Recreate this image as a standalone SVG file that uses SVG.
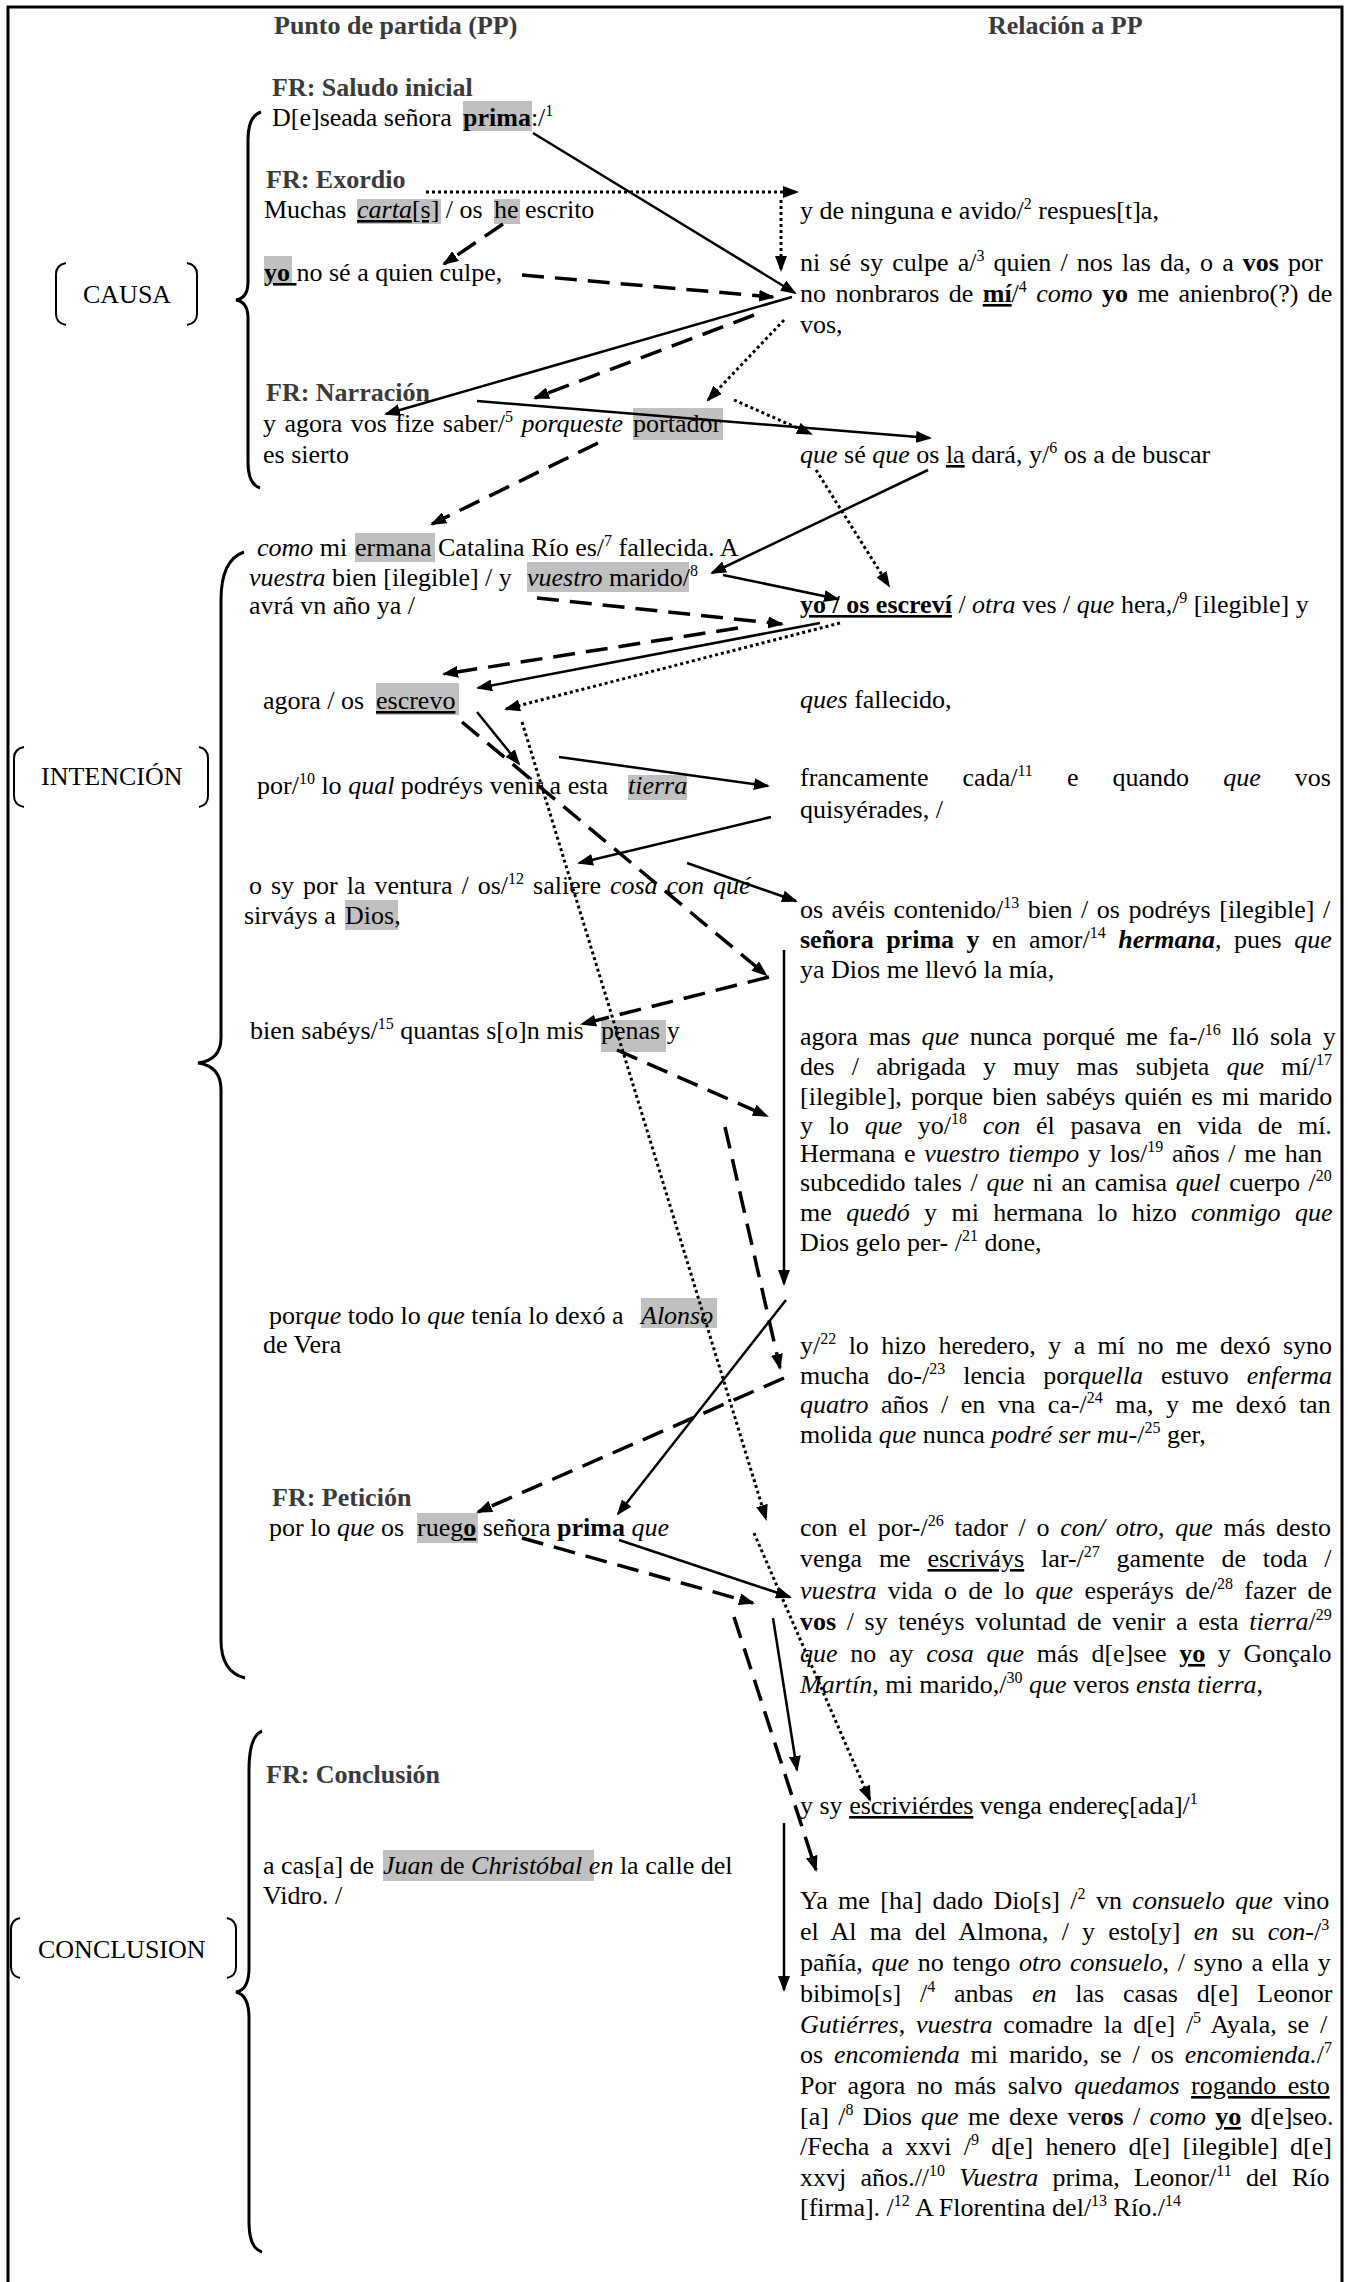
<svg xmlns="http://www.w3.org/2000/svg" width="1348" height="2282" viewBox="0 0 1348 2282">
<style>
.t{font-family:"Liberation Serif","Times New Roman",serif;font-size:26px;fill:#000}
.h{font-weight:bold;fill:#3a3a3a}
.b{font-weight:bold}
.i{font-style:italic}
.u{text-decoration:underline}
.s{font-size:16px}
.hl{fill:#c0c0c0}
.sol{stroke:#000;stroke-width:2.5;fill:none;marker-end:url(#ah)}
.dsh{stroke:#000;stroke-width:3.5;stroke-dasharray:22 11;fill:none;marker-end:url(#ah)}
.dot{stroke:#000;stroke-width:3;stroke-dasharray:3 3;fill:none;marker-end:url(#ah)}
.br{stroke:#000;stroke-width:3;fill:none}
.bk{stroke:#000;stroke-width:2;fill:none}
</style>
<defs>
<marker id="ah" markerUnits="userSpaceOnUse" markerWidth="16" markerHeight="12" refX="14" refY="6" orient="auto">
<path d="M0,0 L16,6 L0,12 z" fill="#000"/>
</marker>
</defs>
<rect x="0" y="0" width="1348" height="2282" fill="#fff"/>
<rect x="8" y="7" width="1334" height="2300" fill="none" stroke="#000" stroke-width="3"/>

<g id="headers">
<text class="t h" x="274" y="34">Punto de partida (PP)</text>
<text class="t h" x="988" y="34">Relación a PP</text>
</g>

<g id="sections">
<g id="causa">
<path class="bk" d="M66,263 Q56,265 56,274 L56,314 Q56,323 66,325"/>
<path class="bk" d="M187,263 Q197,265 197,274 L197,314 Q197,323 187,325"/>
<text class="t" x="83" y="303">CAUSA</text>
<path class="br" d="M261,112 Q248,116 248,140 L248,282 Q248,298 236,300 Q248,302 248,318 L248,462 Q248,484 260,488"/>
</g>
<g id="intencion">
<path class="bk" d="M24,747 Q14,749 14,758 L14,796 Q14,805 24,807"/>
<path class="bk" d="M199,747 Q208,749 208,758 L208,796 Q208,805 199,807"/>
<text class="t" x="41" y="785">INTENCIÓN</text>
<path class="br" d="M244,552 Q221,560 221,600 L221,1038 Q221,1060 198,1063 Q221,1066 221,1090 L221,1640 Q221,1672 245,1678"/>
</g>
<g id="conclusion">
<path class="bk" d="M20,1918 Q11,1920 11,1929 L11,1967 Q11,1976 20,1978"/>
<path class="bk" d="M227,1918 Q236,1920 236,1929 L236,1967 Q236,1976 227,1978"/>
<text class="t" x="38" y="1958">CONCLUSION</text>
<path class="br" d="M262,1731 Q249,1736 249,1770 L249,1968 Q249,1990 236,1992 Q249,1995 249,2018 L249,2222 Q249,2248 262,2252"/>
</g>
</g>

<g id="n-saludo">
<text class="t h" x="272" y="96">FR: Saludo inicial</text>
<rect class="hl" x="463" y="101" width="69" height="30"/>
<text class="t" x="272" y="126">D[e]seada señora <tspan x="463" class="b">prima</tspan>:/<tspan class="s" dy="-10">1</tspan></text>
</g>

<g id="n-exordio">
<text class="t h" x="266" y="188">FR: Exordio</text>
<rect class="hl" x="357" y="199" width="84" height="25"/>
<rect class="hl" x="494" y="199" width="26" height="25"/>
<text class="t" x="264" y="218">Muchas <tspan x="357" class="i u">carta</tspan><tspan class="u">[s]</tspan> / os <tspan x="494">he</tspan> escrito</text>
</g>

<g id="n-yo">
<rect class="hl" x="264" y="256" width="28" height="28"/>
<text class="t" x="264" y="281"><tspan class="b u">yo </tspan>no sé a quien culpe,</text>
</g>

<g id="n-narracion">
<text class="t h" x="266" y="401">FR: Narración</text>
<rect class="hl" x="633" y="408" width="90" height="32"/>
<text class="t" x="263" y="432" style="word-spacing:2px">y agora vos fize saber/<tspan class="s" dy="-10">5</tspan><tspan dy="10"> </tspan><tspan class="i">porqueste</tspan> <tspan x="633">portador</tspan></text>
<text class="t" x="263" y="463">es sierto</text>
</g>

<g id="n-como">
<rect class="hl" x="355" y="533" width="80" height="29"/>
<rect class="hl" x="527" y="562" width="162" height="30"/>
<text class="t" x="257" y="556"><tspan class="i">como</tspan> mi <tspan x="355">ermana</tspan> Catalina Río es/<tspan class="s" dy="-10">7</tspan><tspan dy="10"> fallecida. A</tspan></text>
<text class="t" x="249" y="586"><tspan class="i">vuestra</tspan> bien [ilegible] / y <tspan x="527" class="i">vuestro</tspan> marido/<tspan class="s" dy="-10">8</tspan></text>
<text class="t" x="249" y="614">avrá vn año ya /</text>
</g>

<g id="n-agora">
<rect class="hl" x="376" y="683" width="83" height="32"/>
<text class="t" x="263" y="709">agora / os <tspan x="376" class="u">escrevo</tspan></text>
</g>

<g id="n-por10">
<rect class="hl" x="628" y="775" width="59" height="25"/>
<text class="t" x="257" y="794">por/<tspan class="s" dy="-10">10</tspan><tspan dy="10"> lo </tspan><tspan class="i">qual</tspan> podréys venir a esta <tspan x="628" class="i">tierra</tspan></text>
</g>

<g id="n-osy">
<rect class="hl" x="345" y="900" width="53" height="30"/>
<text class="t" x="249" y="894" style="word-spacing:2.5px">o sy por la ventura / os/<tspan class="s" dy="-10">12</tspan><tspan dy="10"> saliere </tspan><tspan class="i">cosa con qué</tspan></text>
<text class="t" x="244" y="924">sirváys a <tspan x="345">Dios</tspan>,</text>
</g>

<g id="n-bien">
<rect class="hl" x="601" y="1020" width="65" height="32"/>
<text class="t" x="250" y="1039">bien sabéys/<tspan class="s" dy="-10">15</tspan><tspan dy="10"> quantas s[o]n mis </tspan><tspan x="601">penas</tspan> y</text>
</g>

<g id="n-porque">
<rect class="hl" x="641" y="1298" width="76" height="30"/>
<text class="t" x="269" y="1324">por<tspan class="i">que</tspan> todo lo <tspan class="i">que</tspan> tenía lo dexó a <tspan x="641" class="i">Alonso</tspan></text>
<text class="t" x="263" y="1353">de Vera</text>
</g>

<g id="n-peticion">
<text class="t h" x="272" y="1506">FR: Petición</text>
<rect class="hl" x="417" y="1513" width="61" height="30"/>
<text class="t" x="269" y="1536">por lo <tspan class="i">que</tspan> os <tspan x="417">rueg</tspan><tspan class="b u">o</tspan> señora <tspan class="b">prima</tspan> <tspan class="i">que</tspan></text>
</g>

<g id="n-conclusion">
<text class="t h" x="266" y="1783">FR: Conclusión</text>
<rect class="hl" x="383" y="1850" width="211" height="31"/>
<text class="t" x="263" y="1874">a cas[a] de <tspan x="383" class="i">Juan</tspan> de <tspan class="i">Christóbal</tspan> <tspan class="i">en</tspan> la calle del</text>
<text class="t" x="263" y="1904">Vidro. /</text>
</g>

<g id="n-r1">
<text class="t" x="800" y="219">y de ninguna e avido/<tspan class="s" dy="-10">2</tspan><tspan dy="10"> respues[t]a,</tspan></text>
</g>
<g id="n-r2">
<text class="t" x="800" y="271" style="word-spacing:2.6px">ni sé sy culpe a/<tspan class="s" dy="-10">3</tspan><tspan dy="10"> quien / nos las da, o a </tspan><tspan class="b">vos</tspan> por</text>
<text class="t" x="800" y="302" style="word-spacing:2.9px">no nonbraros de <tspan class="b u">mí</tspan>/<tspan class="s" dy="-10">4</tspan><tspan dy="10"> </tspan><tspan class="i">como</tspan> <tspan class="b">yo</tspan> me anienbro(?) de</text>
<text class="t" x="800" y="333">vos,</text>
</g>
<g id="n-r3">
<text class="t" x="800" y="463"><tspan class="i">que</tspan> sé <tspan class="i">que</tspan> os <tspan class="u">la</tspan> dará, y/<tspan class="s" dy="-10">6</tspan><tspan dy="10"> os a de buscar</tspan></text>
</g>
<g id="n-r4">
<text class="t" x="800" y="613"><tspan class="b u">yo / os escreví</tspan> / <tspan class="i">otra</tspan> ves / <tspan class="i">que</tspan> hera,/<tspan class="s" dy="-10">9</tspan><tspan dy="10"> [ilegible] y</tspan></text>
</g>
<g id="n-r5">
<text class="t" x="800" y="708"><tspan class="i">ques</tspan> fallecido,</text>
</g>
<g id="n-r6">
<text class="t" x="800" y="786" style="word-spacing:27.6px">francamente cada/<tspan class="s" dy="-10">11</tspan><tspan dy="10"> e quando </tspan><tspan class="i">que</tspan> vos</text>
<text class="t" x="800" y="818">quisyérades, /</text>
</g>
<g id="n-r7">
<text class="t" x="800" y="918" style="word-spacing:2px">os avéis contenido/<tspan class="s" dy="-10">13</tspan><tspan dy="10"> bien / os podréys [ilegible] /</tspan></text>
<text class="t" x="800" y="948" style="word-spacing:6px"><tspan class="b">señora prima y</tspan> en amor/<tspan class="s" dy="-10">14</tspan><tspan dy="10"> </tspan><tspan class="b i">hermana</tspan>, pues <tspan class="i">que</tspan></text>
<text class="t" x="800" y="978">ya Dios me llevó la mía,</text>
</g>
<g id="n-r8">
<text class="t" x="800" y="1045" style="word-spacing:4.4px">agora mas <tspan class="i">que</tspan> nunca porqué me fa-/<tspan class="s" dy="-10">16</tspan><tspan dy="10"> lló sola y</tspan></text>
<text class="t" x="800" y="1075" style="word-spacing:10.7px">des / abrigada y muy mas subjeta <tspan class="i">que</tspan> mí/<tspan class="s" dy="-10">17</tspan></text>
<text class="t" x="800" y="1105" style="word-spacing:2.6px">[ilegible], porque bien sabéys quién es mi marido</text>
<text class="t" x="800" y="1134" style="word-spacing:9.2px">y lo <tspan class="i">que</tspan> yo/<tspan class="s" dy="-10">18</tspan><tspan dy="10"> </tspan><tspan class="i">con</tspan> él pasava en vida de mí.</text>
<text class="t" x="800" y="1162" style="word-spacing:2.2px">Hermana e <tspan class="i">vuestro tiempo</tspan> y los/<tspan class="s" dy="-10">19</tspan><tspan dy="10"> años / me han</tspan></text>
<text class="t" x="800" y="1191" style="word-spacing:2.2px">subcedido tales / <tspan class="i">que</tspan> ni an camisa <tspan class="i">quel</tspan> cuerpo /<tspan class="s" dy="-10">20</tspan></text>
<text class="t" x="800" y="1221" style="word-spacing:7.9px">me <tspan class="i">quedó</tspan> y mi hermana lo hizo <tspan class="i">conmigo que</tspan></text>
<text class="t" x="800" y="1251">Dios gelo per- /<tspan class="s" dy="-10">21</tspan><tspan dy="10"> done,</tspan></text>
</g>
<g id="n-r9">
<text class="t" x="800" y="1354" style="word-spacing:5.9px">y/<tspan class="s" dy="-10">22</tspan><tspan dy="10"> lo hizo heredero, y a mí no me dexó syno</tspan></text>
<text class="t" x="800" y="1384" style="word-spacing:11.5px">mucha do-/<tspan class="s" dy="-10">23</tspan><tspan dy="10"> lencia por</tspan><tspan class="i">quella</tspan> estuvo <tspan class="i">enferma</tspan></text>
<text class="t" x="800" y="1413" style="word-spacing:6px"><tspan class="i">quatro</tspan> años / en vna ca-/<tspan class="s" dy="-10">24</tspan><tspan dy="10"> ma, y me dexó tan</tspan></text>
<text class="t" x="800" y="1443">molida <tspan class="i">que</tspan> nunca <tspan class="i">podré ser mu-</tspan>/<tspan class="s" dy="-10">25</tspan><tspan dy="10"> ger,</tspan></text>
</g>
<g id="n-r10">
<text class="t" x="800" y="1536" style="word-spacing:4.2px">con el por-/<tspan class="s" dy="-10">26</tspan><tspan dy="10"> tador / o </tspan><tspan class="i">con/ otro</tspan>, <tspan class="i">que</tspan> más desto</text>
<text class="t" x="800" y="1567" style="word-spacing:10.3px">venga me <tspan class="u">escriváys</tspan> lar-/<tspan class="s" dy="-10">27</tspan><tspan dy="10"> gamente de toda /</tspan></text>
<text class="t" x="800" y="1599" style="word-spacing:4.8px"><tspan class="i">vuestra</tspan> vida o de lo <tspan class="i">que</tspan> esperáys de/<tspan class="s" dy="-10">28</tspan><tspan dy="10"> fazer de</tspan></text>
<text class="t" x="800" y="1630" style="word-spacing:4.1px"><tspan class="b">vos</tspan> / sy tenéys voluntad de venir a esta <tspan class="i">tierra</tspan>/<tspan class="s" dy="-10">29</tspan></text>
<text class="t" x="800" y="1662" style="word-spacing:6.2px"><tspan class="i">que</tspan> no ay <tspan class="i">cosa que</tspan> más d[e]see <tspan class="b u">yo</tspan> y Gonçalo</text>
<text class="t" x="800" y="1693"><tspan class="i">Martín</tspan>, mi marido,/<tspan class="s" dy="-10">30</tspan><tspan dy="10"> </tspan><tspan class="i">que</tspan> veros <tspan class="i">ensta tierra</tspan>,</text>
</g>
<g id="n-r11">
<text class="t" x="800" y="1814">y sy <tspan class="u">escriviérdes</tspan> venga endereç[ada]/<tspan class="s" dy="-10">1</tspan></text>
</g>
<g id="n-r12">
<text class="t" x="800" y="1909" style="word-spacing:3.9px">Ya me [ha] dado Dio[s] /<tspan class="s" dy="-10">2</tspan><tspan dy="10"> vn </tspan><tspan class="i">consuelo que</tspan> vino</text>
<text class="t" x="800" y="1940" style="word-spacing:6.7px">el Al ma del Almona, / y esto[y] <tspan class="i">en</tspan> su <tspan class="i">con-</tspan>/<tspan class="s" dy="-10">3</tspan></text>
<text class="t" x="800" y="1971" style="word-spacing:2.2px">pañía, <tspan class="i">que</tspan> no tengo <tspan class="i">otro consuelo</tspan>, / syno a ella y</text>
<text class="t" x="800" y="2002" style="word-spacing:12.3px">bibimo[s] /<tspan class="s" dy="-10">4</tspan><tspan dy="10"> anbas </tspan><tspan class="i">en</tspan> las casas d[e] Leonor</text>
<text class="t" x="800" y="2033" style="word-spacing:4.3px"><tspan class="i">Gutiérres</tspan>, <tspan class="i">vuestra</tspan> comadre la d[e] /<tspan class="s" dy="-10">5</tspan><tspan dy="10"> Ayala, se /</tspan></text>
<text class="t" x="800" y="2063" style="word-spacing:4.4px">os <tspan class="i">encomienda</tspan> mi marido, se / os <tspan class="i">encomienda.</tspan>/<tspan class="s" dy="-10">7</tspan></text>
<text class="t" x="800" y="2094" style="word-spacing:5px">Por agora no más salvo <tspan class="i">quedamos</tspan> <tspan class="u">rogando esto</tspan></text>
<text class="t" x="800" y="2125" style="word-spacing:2.8px">[a] /<tspan class="s" dy="-10">8</tspan><tspan dy="10"> Dios </tspan><tspan class="i">que</tspan> me dexe ver<tspan class="b">os</tspan> / <tspan class="i">como</tspan> <tspan class="b u">yo</tspan> d[e]seo.</text>
<text class="t" x="800" y="2155" style="word-spacing:5.75px">/Fecha a xxvi /<tspan class="s" dy="-10">9</tspan><tspan dy="10"> d[e] henero d[e] [ilegible] d[e]</tspan></text>
<text class="t" x="800" y="2186" style="word-spacing:7.75px">xxvj años.//<tspan class="s" dy="-10">10</tspan><tspan dy="10"> </tspan><tspan class="i">Vuestra</tspan> prima, Leonor/<tspan class="s" dy="-10">11</tspan><tspan dy="10"> del Río</tspan></text>
<text class="t" x="800" y="2216">[firma]. /<tspan class="s" dy="-10">12</tspan><tspan dy="10"> A Florentina del/</tspan><tspan class="s" dy="-10">13</tspan><tspan dy="10"> Río./</tspan><tspan class="s" dy="-10">14</tspan></text>
</g>

<g id="connectors">
<line class="dot" x1="426" y1="192" x2="797" y2="192"/>
<line class="dot" x1="781" y1="200" x2="781" y2="270"/>
<line class="dot" x1="784" y1="320" x2="708" y2="400"/>
<line class="dot" x1="734" y1="400" x2="811" y2="434"/>
<line class="dot" x1="816" y1="470" x2="889" y2="586"/>
<line class="dot" x1="840" y1="623" x2="506" y2="709"/>
<line class="dot" x1="522" y1="722" x2="766" y2="1519"/>
<line class="dot" x1="754" y1="1533" x2="870" y2="1800"/>

<line class="sol" x1="533" y1="133" x2="795" y2="293"/>
<line class="sol" x1="792" y1="297" x2="386" y2="414"/>
<line class="sol" x1="477" y1="401" x2="930" y2="438"/>
<line class="sol" x1="928" y1="470" x2="712" y2="573"/>
<line class="sol" x1="723" y1="575" x2="838" y2="599"/>
<line class="sol" x1="820" y1="623" x2="478" y2="688"/>
<line class="sol" x1="477" y1="712" x2="519" y2="764"/>
<line class="sol" x1="559" y1="757" x2="768" y2="786"/>
<line class="sol" x1="771" y1="817" x2="579" y2="863"/>
<line class="sol" x1="687" y1="863" x2="796" y2="901"/>
<line class="sol" x1="784" y1="950" x2="784" y2="1284"/>
<line class="sol" x1="786" y1="1300" x2="618" y2="1514"/>
<line class="sol" x1="619" y1="1540" x2="790" y2="1597"/>
<line class="sol" x1="773" y1="1618" x2="797" y2="1770"/>
<line class="sol" x1="784" y1="1823" x2="784" y2="1990"/>

<line class="dsh" x1="503" y1="224" x2="444" y2="264"/>
<line class="dsh" x1="522" y1="275" x2="773" y2="297"/>
<line class="dsh" x1="754" y1="315" x2="535" y2="398"/>
<line class="dsh" x1="598" y1="443" x2="432" y2="524"/>
<line class="dsh" x1="537" y1="598" x2="782" y2="624"/>
<line class="dsh" x1="738" y1="628" x2="444" y2="674"/>
<line class="dsh" x1="462" y1="722" x2="766" y2="975"/>
<line class="dsh" x1="769" y1="977" x2="582" y2="1024"/>
<line class="dsh" x1="617" y1="1050" x2="767" y2="1116"/>
<line class="dsh" x1="725" y1="1127" x2="780" y2="1368"/>
<line class="dsh" x1="784" y1="1378" x2="478" y2="1512"/>
<line class="dsh" x1="522" y1="1538" x2="753" y2="1603"/>
<line class="dsh" x1="734" y1="1617" x2="816" y2="1870"/>
</g>
</svg>
